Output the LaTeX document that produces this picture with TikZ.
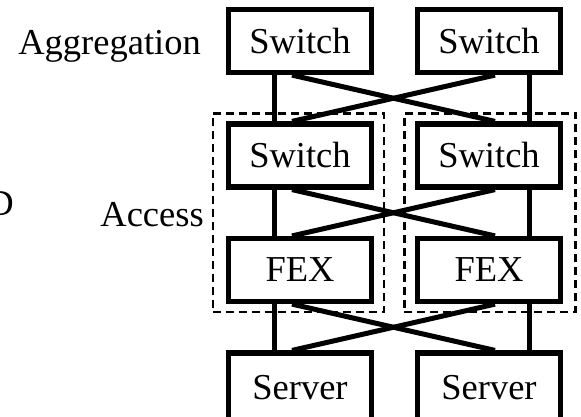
\documentclass[tikz,border=0pt]{standalone}
\usepackage{fontspec}
\setmainfont{Liberation Serif}
\usetikzlibrary{fit}
\begin{document}
\begin{tikzpicture}[x=1pt,y=-1pt,
  box/.style={draw, line width=5.2pt, minimum width=143pt, minimum height=63pt, inner sep=0pt, font=\fontsize{36.5}{40}\selectfont},
  tallbox/.style={box, minimum height=70pt},
  link/.style={line width=5pt},
  groupbox/.style={draw, line width=2.4pt, dash pattern=on 8pt off 5pt, inner ysep=8pt, inner xsep=11.5pt},
  lbl/.style={inner sep=0pt, font=\fontsize{36.5}{40}\selectfont}]
\useasboundingbox (0,0) rectangle (581,416);
% boxes
\node[box] (s1a) at (300,41) {Switch};
\node[box] (s1b) at (489,41) {Switch};
\node[box] (s2a) at (300,155.5) {Switch};
\node[box] (s2b) at (489,155.5) {Switch};
\node[box] (fa) at (300,270) {FEX};
\node[box] (fb) at (489,270) {FEX};
\node[tallbox] (sva) at (300,388) {Server};
\node[tallbox] (svb) at (489,388) {Server};
% groups
\node[groupbox, fit=(s2a)(fa), xshift=-1.5pt] (ga) {};
\node[groupbox, fit=(s2b)(fb), xshift=1pt] (gb) {};
% labels
\node[lbl, anchor=base east] (agg) at (201,54) {Aggregation};
\node[lbl, anchor=base east] (acc) at (204,226) {Access};
\node[lbl, anchor=base east] (dd) at (14,215) {D};
% links
\foreach \u/\v/\w/\z in {s1a/s1b/s2a/s2b, s2a/s2b/fa/fb, fa/fb/sva/svb}{
  \draw[link] ([xshift=-26pt]\u.south) -- ([xshift=-26pt]\w.north);
  \draw[link] ([xshift=40pt]\v.south) -- ([xshift=40pt]\z.north);
  \draw[link] ([xshift=-8pt]\u.south) -- ([xshift=6pt]\z.north);
  \draw[link] ([xshift=6pt]\v.south) -- ([xshift=-8pt]\w.north);
}
\end{tikzpicture}
\end{document}
